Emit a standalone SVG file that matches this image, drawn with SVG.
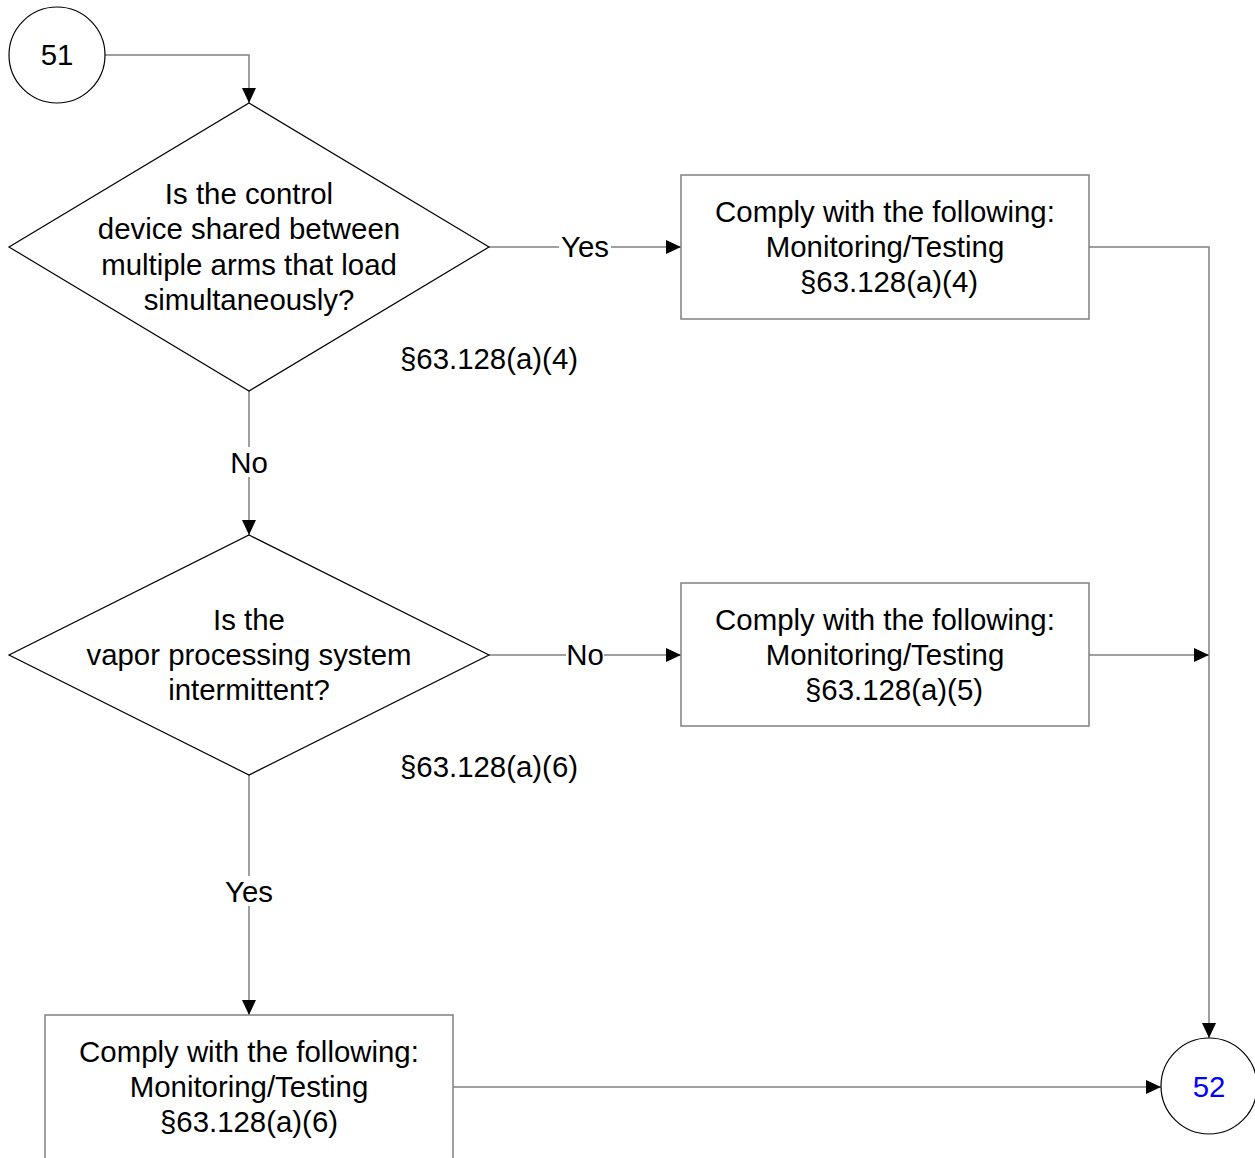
<svg xmlns="http://www.w3.org/2000/svg" width="1255" height="1158" viewBox="0 0 1255 1158">
<style>
text{font-family:"Liberation Sans",Arial,sans-serif;font-size:29.4px;fill:#000;text-anchor:middle;dominant-baseline:central}
.dia{fill:#fff;stroke:#000;stroke-width:1.2}
.box{fill:#fff;stroke:#808080;stroke-width:1.5}
.circ{fill:#fff;stroke:#000;stroke-width:1.2}
.con{fill:none;stroke:#808080;stroke-width:1.5;marker-end:url(#arr)}
.lbl{fill:#fff;stroke:none}
</style>
<defs>
<marker id="arr" markerUnits="userSpaceOnUse" markerWidth="16" markerHeight="14" refX="15" refY="7" orient="auto">
<path d="M0,0 L15,7 L0,14 Z" fill="#000"/>
</marker>
</defs>
<g id="connectors">
<path class="con" d="M105,55 H249 V103"/>
<path class="con" d="M249,391 V535"/>
<path class="con" d="M489,247 H681"/>
<path class="con" d="M1089,247 H1209 V1038"/>
<path class="con" d="M489,655 H681"/>
<path class="con" d="M1089,655 H1209"/>
<path class="con" d="M249,775 V1015"/>
<path class="con" d="M453,1087 H1161"/>
<rect class="lbl" x="559" y="232" width="52" height="30"/>
<text x="585" y="246">Yes</text>
<rect class="lbl" x="566" y="640" width="38" height="30"/>
<text x="585" y="654">No</text>
<rect class="lbl" x="229" y="447" width="40" height="30"/>
<text x="249" y="462">No</text>
<rect class="lbl" x="223" y="876" width="52" height="30"/>
<text x="249" y="891">Yes</text>
</g>
<g id="n51">
<circle class="circ" cx="57" cy="55" r="48"/>
<text x="57" y="54">51</text>
</g>
<g id="d1">
<polygon class="dia" points="249,103 489,247 249,391 9,247"/>
<text x="249" y="193">Is the control</text>
<text x="249" y="228">device shared between</text>
<text x="249" y="264">multiple arms that load</text>
<text x="249" y="299">simultaneously?</text>
<text x="489" y="358">§63.128(a)(4)</text>
</g>
<g id="b1">
<rect class="box" x="681" y="175" width="408" height="144"/>
<text x="885" y="211">Comply with the following:</text>
<text x="885" y="246">Monitoring/Testing</text>
<text x="889" y="281">§63.128(a)(4)</text>
</g>
<g id="d2">
<polygon class="dia" points="249,535 489,655 249,775 9,655"/>
<text x="249" y="619">Is the</text>
<text x="249" y="654">vapor processing system</text>
<text x="249" y="689">intermittent?</text>
<text x="489" y="766">§63.128(a)(6)</text>
</g>
<g id="b2">
<rect class="box" x="681" y="583" width="408" height="143"/>
<text x="885" y="619">Comply with the following:</text>
<text x="885" y="654">Monitoring/Testing</text>
<text x="894" y="689">§63.128(a)(5)</text>
</g>
<g id="b3">
<rect class="box" x="45" y="1015" width="408" height="150"/>
<text x="249" y="1051">Comply with the following:</text>
<text x="249" y="1086">Monitoring/Testing</text>
<text x="249" y="1121">§63.128(a)(6)</text>
</g>
<g id="n52">
<circle class="circ" cx="1209" cy="1086" r="48"/>
<text x="1209" y="1086" style="fill:#0000ff">52</text>
</g>
</svg>
